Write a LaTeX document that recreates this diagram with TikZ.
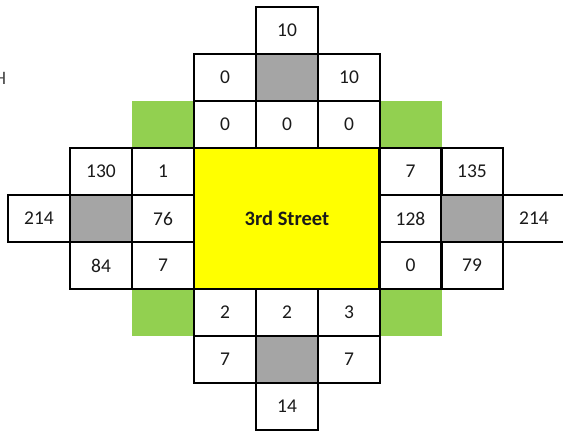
\documentclass[tikz,border=0pt]{standalone}
\usepackage{fontspec}
\setmainfont{Carlito}
\definecolor{cellgray}{HTML}{A5A5A5}
\definecolor{cellgreen}{HTML}{92D050}
\definecolor{cellyellow}{HTML}{FFFF00}
\definecolor{txt}{HTML}{1A1A1A}
\begin{document}
\begin{tikzpicture}[x=1pt,y=-1pt,
  cell/.style={draw=black, line width=2.2pt, minimum width=62pt, minimum height=47pt, inner sep=0pt, font=\fontsize{19.5}{22}\selectfont, text=txt},
  graycell/.style={cell, fill=cellgray},
  greencell/.style={fill=cellgreen, minimum width=62pt, minimum height=47pt, inner sep=0pt},
  street/.style={draw=black, line width=2.2pt, fill=cellyellow, minimum width=186pt, minimum height=141pt, inner sep=0pt, font=\bfseries\fontsize{20.5}{23}\selectfont, text=txt}]
\useasboundingbox (0,0) rectangle (563,434);
% green corners
\node[greencell] (gTL) at (163,124.5) {};
\node[greencell] (gTR) at (410.5,124.5) {};
\node[greencell] (gBL) at (163,312.5) {};
\node[greencell] (gBR) at (410.5,312.5) {};
% centre
\node[street] (st) at (287,218.5) {3rd Street};
% top arm
\node[cell] (t0) at (287,30.5) {10};
\node[cell] (t1a) at (225,77.5) {0};
\node[graycell] (t1b) at (287,77.5) {};
\node[cell] (t1c) at (349,77.5) {10};
\node[cell] (t2a) at (225,124.5) {0};
\node[cell] (t2b) at (287,124.5) {0};
\node[cell] (t2c) at (349,124.5) {0};
% left arm
\node[cell] (l0a) at (101,171.5) {130};
\node[cell] (l0b) at (163,171.5) {1};
\node[cell] (l1o) at (39,218.5) {214};
\node[graycell] (l1a) at (101,218.5) {};
\node[cell] (l1b) at (163,218.5) {76};
\node[cell] (l2a) at (101,265.5) {84};
\node[cell] (l2b) at (163,265.5) {7};
% right arm
\node[cell] (r0a) at (410.5,171.5) {7};
\node[cell] (r0b) at (472,171.5) {135};
\node[cell] (r1a) at (410.5,218.5) {128};
\node[graycell] (r1b) at (472,218.5) {};
\node[cell] (r1o) at (534,218.5) {214};
\node[cell] (r2a) at (410.5,265.5) {0};
\node[cell] (r2b) at (472,265.5) {79};
% bottom arm
\node[cell] (b0a) at (225,312.5) {2};
\node[cell] (b0b) at (287,312.5) {2};
\node[cell] (b0c) at (349,312.5) {3};
\node[cell] (b1a) at (225,359.5) {7};
\node[graycell] (b1b) at (287,359.5) {};
\node[cell] (b1c) at (349,359.5) {7};
\node[cell] (b2) at (287,406.5) {14};
% cut-off letter at the left edge
\node[anchor=east, inner sep=0pt, text=txt!80, font=\fontsize{19}{21}\selectfont] (hcut) at (6.5,78) {H};
\end{tikzpicture}
\end{document}
